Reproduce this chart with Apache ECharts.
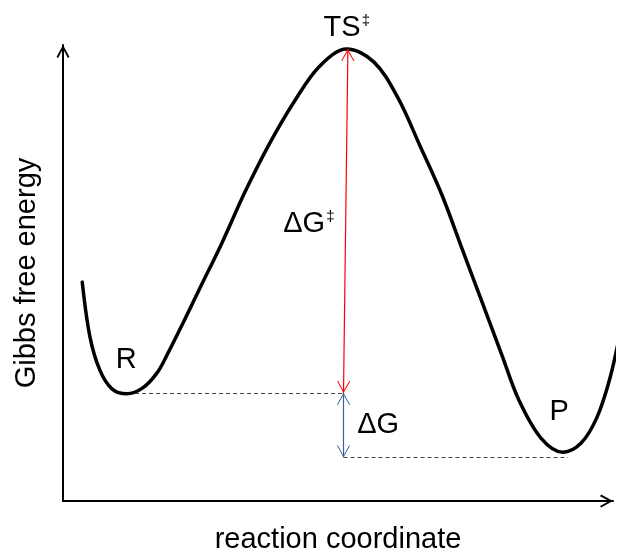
<!DOCTYPE html>
<html>
<head>
<meta charset="utf-8">
<script src="https://cdn.jsdelivr.net/npm/echarts@6/dist/echarts.min.js"></script>
<style>
  html, body { margin: 0; padding: 0; background: #fff; }
  #chart { width: 621px; height: 552px; }
</style>
</head>
<body>
<div id="chart"></div>
<script>
// energy profile (x: reaction coordinate 0-100, y: free energy 0-100)
const rxCoord = [3.5, 4.9, 6.7, 8.9, 11.6, 14.5, 17.1, 18.9, 21.8, 24.9, 28.9, 33.1, 37.6, 42.2, 46.7, 51.6, 56.5, 60.9, 64.9, 68.9, 72.5, 76.2, 79.8, 82.9, 86.9, 90.9, 94.2, 97.1, 99.5, 101.5]
const gEnergy = [48.0, 36.0, 28.7, 24.6, 23.5, 24.8, 28.1, 32.0, 39.0, 46.7, 56.6, 67.8, 78.5, 87.9, 95.4, 99.1, 96.3, 88.4, 77.9, 67.1, 55.5, 43.6, 32.0, 22.1, 13.8, 10.7, 12.7, 18.4, 27.2, 38.2]

// levels used by the annotations
const levelTS = 99.1
const levelR = 23.7
const levelP = 9.6
const startR = 13.1
const endP = 91.8
const arrowTopX = 51.8
const arrowMidX = 51.0

// text labels
const labelNames = ['{a|TS}{s|‡}', '{a|ΔG}{s|‡}', '{a|R}', '{a|ΔG}', '{a|P}']
const labelX = [51.6, 44.7, 11.5, 57.3, 90.2]
const labelY = [103.8, 60.8, 30.9, 16.7, 19.6]

const FONT = 'Liberation Sans, Arial, sans-serif'
const chevronBold = 'path://M12,0 L24,22 L21,24 L12,7 L3,24 L0,22 Z'
const chevronThin = 'path://M12,0 L24,22 L22.5,23 L12,3.5 L1.5,23 L0,22 Z'

const chart = echarts.init(document.getElementById('chart'))

const axisCommon = {
    type: 'value',
    min: 0,
    max: 100,
    nameLocation: 'middle',
    nameTextStyle: { fontFamily: FONT, fontSize: 29, color: '#000' },
    axisLine: {
        show: true,
        symbol: ['none', chevronBold],
        symbolSize: [13, 13],
        symbolOffset: [0, -6.5],
        lineStyle: { color: '#000', width: 2 }
    },
    axisTick: { show: false },
    axisLabel: { show: false },
    splitLine: { show: false }
}

const curve = rxCoord.map((x, i) => [x, gEnergy[i]])
const labels = labelNames.map((t, i) => [labelX[i], labelY[i], t])

function arrowLine(p1, p2, color) {
    return [
        { coord: p1, lineStyle: { color: color, width: 1.2, type: 'solid' } },
        { coord: p2 }
    ]
}
function dashLine(p1, p2) {
    return [
        { coord: p1, symbol: 'none', lineStyle: { color: '#444', width: 1.2, type: [4, 3] } },
        { coord: p2, symbol: 'none' }
    ]
}

const option = {
    animation: false,
    grid: { left: 63, right: 8, top: 45, bottom: 51, containLabel: false, outerBoundsMode: 'none' },
    xAxis: Object.assign({}, axisCommon, { name: 'reaction coordinate', nameGap: 24 }),
    yAxis: Object.assign({}, axisCommon, { name: 'Gibbs free energy', nameGap: 22 }),
    series: [
        {
            type: 'line',
            data: curve,
            smooth: 0.35,
            showSymbol: false,
            clip: false,
            lineStyle: { color: '#000', width: 3.5, join: 'round', cap: 'round' },
            z: 3
        },
        {
            type: 'line',
            data: [],
            markLine: {
                silent: true,
                symbol: [chevronThin, chevronThin],
                symbolSize: [13, 12],
                symbolOffset: [[0, 6], [0, 6]],
                label: { show: false },
                data: [
                    arrowLine([arrowTopX, levelTS], [arrowMidX, levelR], '#ff0000'),
                    arrowLine([arrowMidX, levelR], [arrowMidX, levelP], '#3d6096'),
                    dashLine([startR, levelR], [arrowMidX, levelR]),
                    dashLine([arrowMidX, levelP], [endP, levelP])
                ]
            }
        },
        {
            type: 'scatter',
            data: labels,
            symbolSize: 1,
            clip: false,
            silent: true,
            itemStyle: { color: 'transparent', opacity: 1 },
            label: {
                show: true,
                position: 'inside',
                color: '#000',
                formatter: p => p.data[2],
                rich: {
                    a: { fontFamily: FONT, fontSize: 29, color: '#000' },
                    s: { fontFamily: FONT, fontSize: 15, color: '#000', verticalAlign: 'top', padding: [0, 0, 8, 1] }
                }
            }
        }
    ]
}

chart.setOption(option)
</script>
</body>
</html>
